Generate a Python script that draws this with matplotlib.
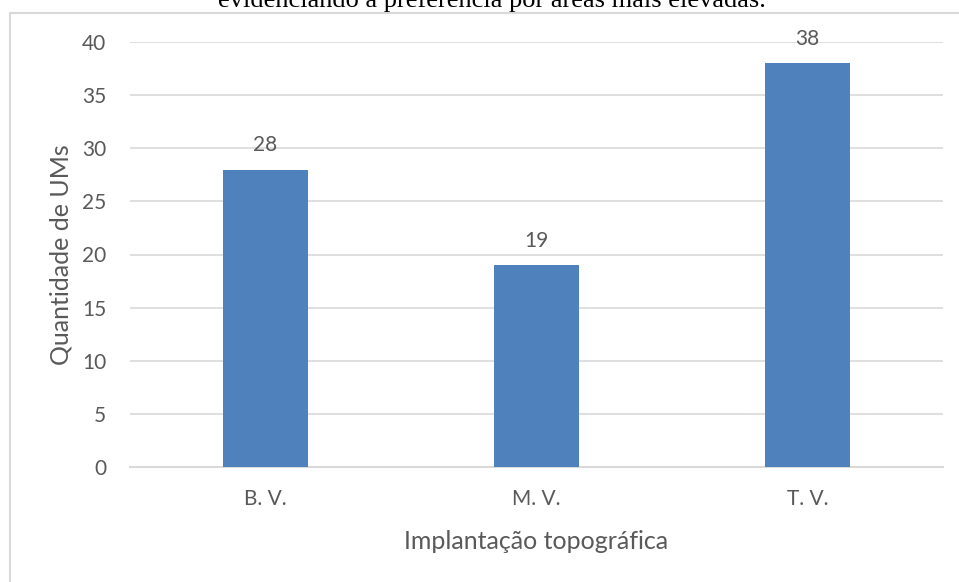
import matplotlib.pyplot as plt
from matplotlib.patches import Rectangle

categories = ["B. V.", "M. V.", "T. V."]
values = [28, 19, 38]
yticks = [0, 5, 10, 15, 20, 25, 30, 35, 40]

W, H = 959, 582
fig = plt.figure(figsize=(W/100, H/100), dpi=100)
plt.rcParams['font.family'] = ['Lato', 'DejaVu Sans']

text_color = '#595959'
bar_color = '#4F81BD'
grid_color = '#D9D9D9'

# outer chart border (partially visible)
fig.patches.append(Rectangle((9.5/W, -0.1), 1.2, (H-13)/H + 0.1, transform=fig.transFigure,
                             fill=False, edgecolor='#D9D9D9', linewidth=1.5))

# clipped caption at top
fig.text(491.5/W, 1 - 7/H, "evidenciando a preferência por áreas mais elevadas.",
         family='Liberation Serif', fontsize=19, color='black', ha='center', va='baseline')

left, right = 130, 943
y0, y40 = 467, 42
ax = fig.add_axes([left/W, 1 - y0/H, (right-left)/W, (y0-y40)/H])
x = range(len(categories))
bars = ax.bar(x, values, width=0.315, color=bar_color, zorder=3)
ax.set_xlim(-0.5, 2.5)
ax.set_ylim(0, 40)
ax.set_yticks(yticks)
ax.set_xticks(list(x))
ax.set_xticklabels(categories)
ax.grid(axis='y', color=grid_color, linewidth=1.2, zorder=0)
for s in ['top', 'right', 'left']:
    ax.spines[s].set_visible(False)
ax.spines['bottom'].set_color(grid_color)
ax.spines['bottom'].set_linewidth(1.5)
ax.tick_params(axis='both', length=0, colors=text_color, labelsize=15)
ax.tick_params(axis='y', pad=17)
ax.tick_params(axis='x', pad=16)
for b, v in zip(bars, values):
    ax.annotate(str(v), (b.get_x() + b.get_width()/2, v), xytext=(0, 13),
                textcoords='offset points', ha='center', va='baseline',
                fontsize=15, color=text_color)
ax.set_ylabel("Quantidade de UMs", fontsize=18, color=text_color, va='center')
ax.yaxis.set_label_coords((61 - left) / (right - left), 0.5)
ax.set_xlabel("Implantação topográfica", fontsize=18, color=text_color, va='baseline')
ax.xaxis.set_label_coords(0.5, (y0 - 549) / (y0 - y40))

fig.savefig("out.png", dpi=100)
